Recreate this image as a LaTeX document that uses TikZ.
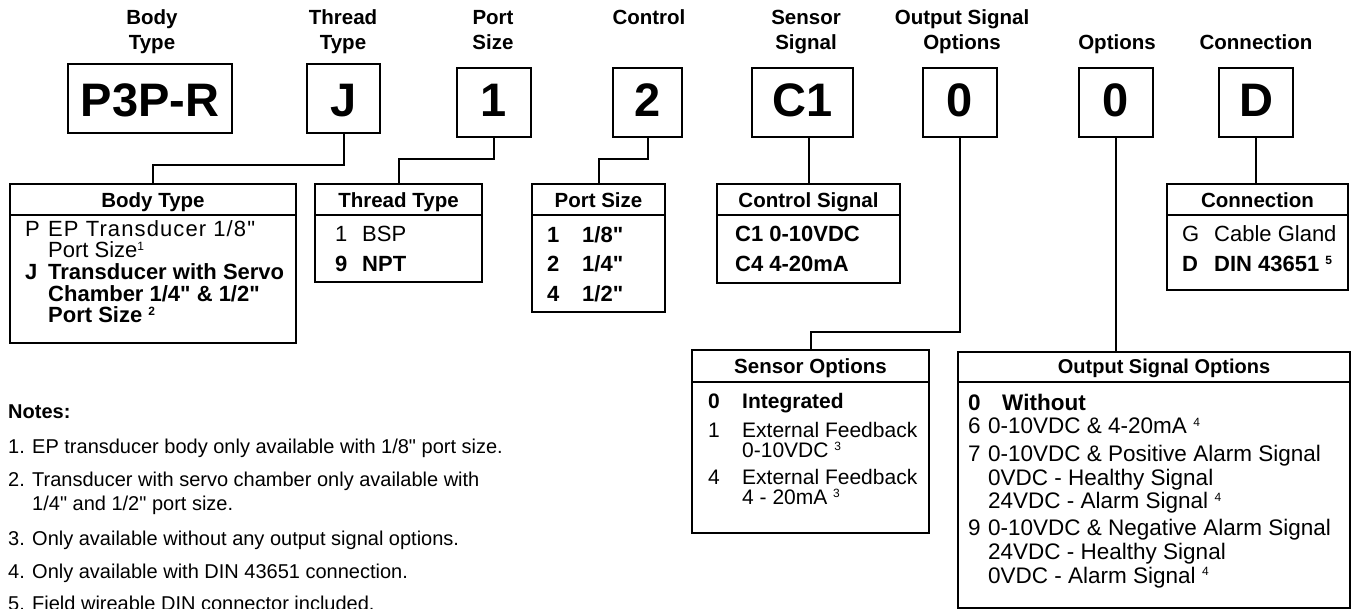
\documentclass[tikz,border=0pt]{standalone}
\usepackage{fontspec}
\newfontfamily\arial{Liberation Sans}
\newcommand\sups[1]{\raisebox{7pt}{\fontsize{12}{12}\selectfont #1}}
\begin{document}
\begin{tikzpicture}[x=1pt,y=-1pt,
  bigbox/.style={draw, line width=2pt, inner sep=0pt, minimum height=69pt,
    text height=29pt, text depth=0pt,
    font=\arial\bfseries\fontsize{47}{47}\selectfont},
  bigboxhi/.style={bigbox, text height=37pt},
  tbl/.style={draw, line width=2pt, inner sep=0pt},
  lbl/.style={anchor=base, inner sep=0pt, font=\arial\bfseries\fontsize{20.5}{25}\selectfont},
  hdr/.style={anchor=base, inner sep=0pt, font=\arial\bfseries\fontsize{20.5}{25}\selectfont},
  row/.style={anchor=base west, inner sep=0pt, font=\arial\fontsize{22}{26}\selectfont},
  rowb/.style={anchor=base west, inner sep=0pt, font=\arial\bfseries\fontsize{22}{26}\selectfont},
  srow/.style={anchor=base west, inner sep=0pt, font=\arial\fontsize{21}{26}\selectfont},
  srowb/.style={anchor=base west, inner sep=0pt, font=\arial\bfseries\fontsize{21}{26}\selectfont},
  orow/.style={anchor=base west, inner sep=0pt, font=\arial\fontsize{22.5}{26}\selectfont},
  orowb/.style={anchor=base west, inner sep=0pt, font=\arial\bfseries\fontsize{22.5}{26}\selectfont},
  note/.style={anchor=base west, inner sep=0pt, font=\arial\fontsize{20}{23}\selectfont},
  noteb/.style={anchor=base west, inner sep=0pt, font=\arial\bfseries\fontsize{20}{23}\selectfont},
  conn/.style={line width=2pt}]
\path[use as bounding box, fill=white] (0,0) rectangle (1353,609);

% top labels
\node[lbl] (l1a) at (152,25) {Body};
\node[lbl] (l1b) at (152,50) {Type};
\node[lbl] (l2a) at (343,25) {Thread};
\node[lbl] (l2b) at (343,50) {Type};
\node[lbl] (l3a) at (493,25) {Port};
\node[lbl] (l3b) at (493,50) {Size};
\node[lbl] (l4a) at (649,25) {Control};
\node[lbl] (l5a) at (806,25) {Sensor};
\node[lbl] (l5b) at (806,50) {Signal};
\node[lbl] (l6a) at (962,25) {Output Signal};
\node[lbl] (l6b) at (962,50) {Options};
\node[lbl] (l7b) at (1117,50) {Options};
\node[lbl] (l8b) at (1256,50) {Connection};

% code boxes
\node[bigboxhi, minimum width=164pt] (bP) at (150,98.5) {P3P-R};
\node[bigboxhi, minimum width=73pt] (bJ) at (343.5,98.5) {J};
\node[bigbox, minimum width=74pt] (b1) at (494,102.5) {1};
\node[bigbox, minimum width=69pt] (b2) at (647.5,102.5) {2};
\node[bigbox, minimum width=101pt] (bC) at (802.5,102.5) {C1};
\node[bigbox, minimum width=74pt] (b0a) at (960,102.5) {0};
\node[bigbox, minimum width=74pt] (b0b) at (1116,102.5) {0};
\node[bigbox, minimum width=74pt] (bD) at (1256,102.5) {D};

% tables
\node[tbl, minimum width=286pt, minimum height=159pt] (tBody) at (153,263.5) {};
\node[tbl, minimum width=167pt, minimum height=98pt] (tThread) at (398.5,233) {};
\node[tbl, minimum width=133pt, minimum height=128pt] (tPort) at (598.5,248) {};
\node[tbl, minimum width=183pt, minimum height=99pt] (tCtrl) at (808.5,233.5) {};
\node[tbl, minimum width=181pt, minimum height=106pt] (tConn) at (1257.5,237) {};
\node[tbl, minimum width=237pt, minimum height=183pt] (tSens) at (810.5,441.5) {};
\node[tbl, minimum width=392pt, minimum height=256pt] (tOut) at (1154,480) {};

% header rules
\foreach \t in {tBody,tThread,tPort,tCtrl,tConn}
  \draw[conn] ([yshift=-32pt]\t.north west) -- ([yshift=-32pt]\t.north east);
\draw[conn] ([yshift=-33pt]tSens.north west) -- ([yshift=-33pt]tSens.north east);
\draw[conn] ([yshift=-31pt]tOut.north west) -- ([yshift=-31pt]tOut.north east);

% connectors
\draw[conn] (bJ.south) -- ++(0,31) -| (tBody.north);
\draw[conn] (b1.south) -- ++(0,21) -| (tThread.north);
\draw[conn] (b2.south) -- ++(0,21) -| (tPort.north);
\draw[conn] (tCtrl.north |- bC.south) -- (tCtrl.north);
\draw[conn] (b0a.south) -- ++(0,194) -| (tSens.north);
\draw[conn] (b0b.south) -- (b0b.south |- tOut.north);
\draw[conn] (bD.south) -- (bD.south |- tConn.north);

% Body Type
\node[hdr] (hBody) at (153,208) {Body Type};
\node[row] (bk1) at (25,237) {P};
\node[row] (bt1) at (48,237) {\addfontfeature{LetterSpace=5}EP Transducer 1/8"};
\node[row] (bt2) at (48,258) {Port Size\sups{1}};
\node[rowb] (bk3) at (25,280) {J};
\node[rowb] (bt3) at (48,280) {Transducer with Servo};
\node[rowb] (bt4) at (48,302) {Chamber 1/4" \& 1/2"};
\node[rowb] (bt5) at (48,323) {Port Size \sups{2}};

% Thread Type
\node[hdr] (hThread) at (398.5,208) {Thread Type};
\node[row] (tk1) at (335,242) {1};
\node[row] (tt1) at (362,242) {BSP};
\node[rowb] (tk2) at (335,272) {9};
\node[rowb] (tt2) at (362,272) {NPT};

% Port Size
\node[hdr] (hPort) at (598.5,208) {Port Size};
\node[rowb] (pk1) at (547,243) {1};
\node[rowb] (pt1) at (582,243) {1/8"};
\node[rowb] (pk2) at (547,272) {2};
\node[rowb] (pt2) at (582,272) {1/4"};
\node[rowb] (pk3) at (547,302) {4};
\node[rowb] (pt3) at (582,302) {1/2"};

% Control Signal
\node[hdr] (hCtrl) at (808.5,208) {Control Signal};
\node[rowb] (ct1) at (735,242) {C1 0-10VDC};
\node[rowb] (ct2) at (735,272) {C4 4-20mA};

% Connection
\node[hdr] (hConn) at (1257.5,208) {Connection};
\node[row] (nk1) at (1182,242) {G};
\node[row] (nt1) at (1214,242) {Cable Gland};
\node[rowb] (nk2) at (1182,272) {D};
\node[rowb] (nt2) at (1214,272) {DIN 43651 \sups{5}};

% Sensor Options
\node[hdr] (hSens) at (810.5,374) {Sensor Options};
\node[srowb] (sk1) at (708,409) {0};
\node[srowb] (st1) at (742,409) {Integrated};
\node[srow] (sk2) at (708,438) {1};
\node[srow] (st2) at (742,438) {External Feedback};
\node[srow] (st3) at (742,458) {0-10VDC \sups{3}};
\node[srow] (sk4) at (708,485) {4};
\node[srow] (st4) at (742,485) {External Feedback};
\node[srow] (st5) at (742,505) {4 - 20mA \sups{3}};

% Output Signal Options
\node[hdr, font=\arial\bfseries\fontsize{20}{25}\selectfont] (hOut) at (1164,374) {Output Signal Options};
\node[orowb] (ok1) at (968,411) {0};
\node[orowb] (ot1) at (1002,411) {Without};
\node[orow] (ok2) at (968,434) {6};
\node[orow] (ot2) at (988,434) {0-10VDC \& 4-20mA \sups{4}};
\node[orow] (ok3) at (968,462) {7};
\node[orow] (ot3) at (988,462) {0-10VDC \& Positive Alarm Signal};
\node[orow] (ot4) at (988,486) {0VDC - Healthy Signal};
\node[orow] (ot5) at (988,509) {24VDC - Alarm Signal \sups{4}};
\node[orow] (ok6) at (968,536) {9};
\node[orow] (ot6) at (988,536) {0-10VDC \& Negative Alarm Signal};
\node[orow] (ot7) at (988,559) {24VDC - Healthy Signal};
\node[orow] (ot8) at (988,583) {0VDC - Alarm Signal \sups{4}};

% Notes
\node[noteb] (nH) at (8,419) {Notes:};
\node[note] (n1k) at (8,454) {1.};
\node[note] (n1) at (32,454) {EP transducer body only available with 1/8" port size.};
\node[note] (n2k) at (8,487) {2.};
\node[note] (n2) at (32,487) {Transducer with servo chamber only available with};
\node[note] (n2b) at (32,511) {1/4" and 1/2" port size.};
\node[note] (n3k) at (8,545) {3.};
\node[note] (n3) at (32,545) {Only available without any output signal options.};
\node[note] (n4k) at (8,578) {4.};
\node[note] (n4) at (32,578) {Only available with DIN 43651 connection.};
\node[note] (n5k) at (8,610) {5.};
\node[note] (n5) at (32,610) {Field wireable DIN connector included.};
\end{tikzpicture}
\end{document}
